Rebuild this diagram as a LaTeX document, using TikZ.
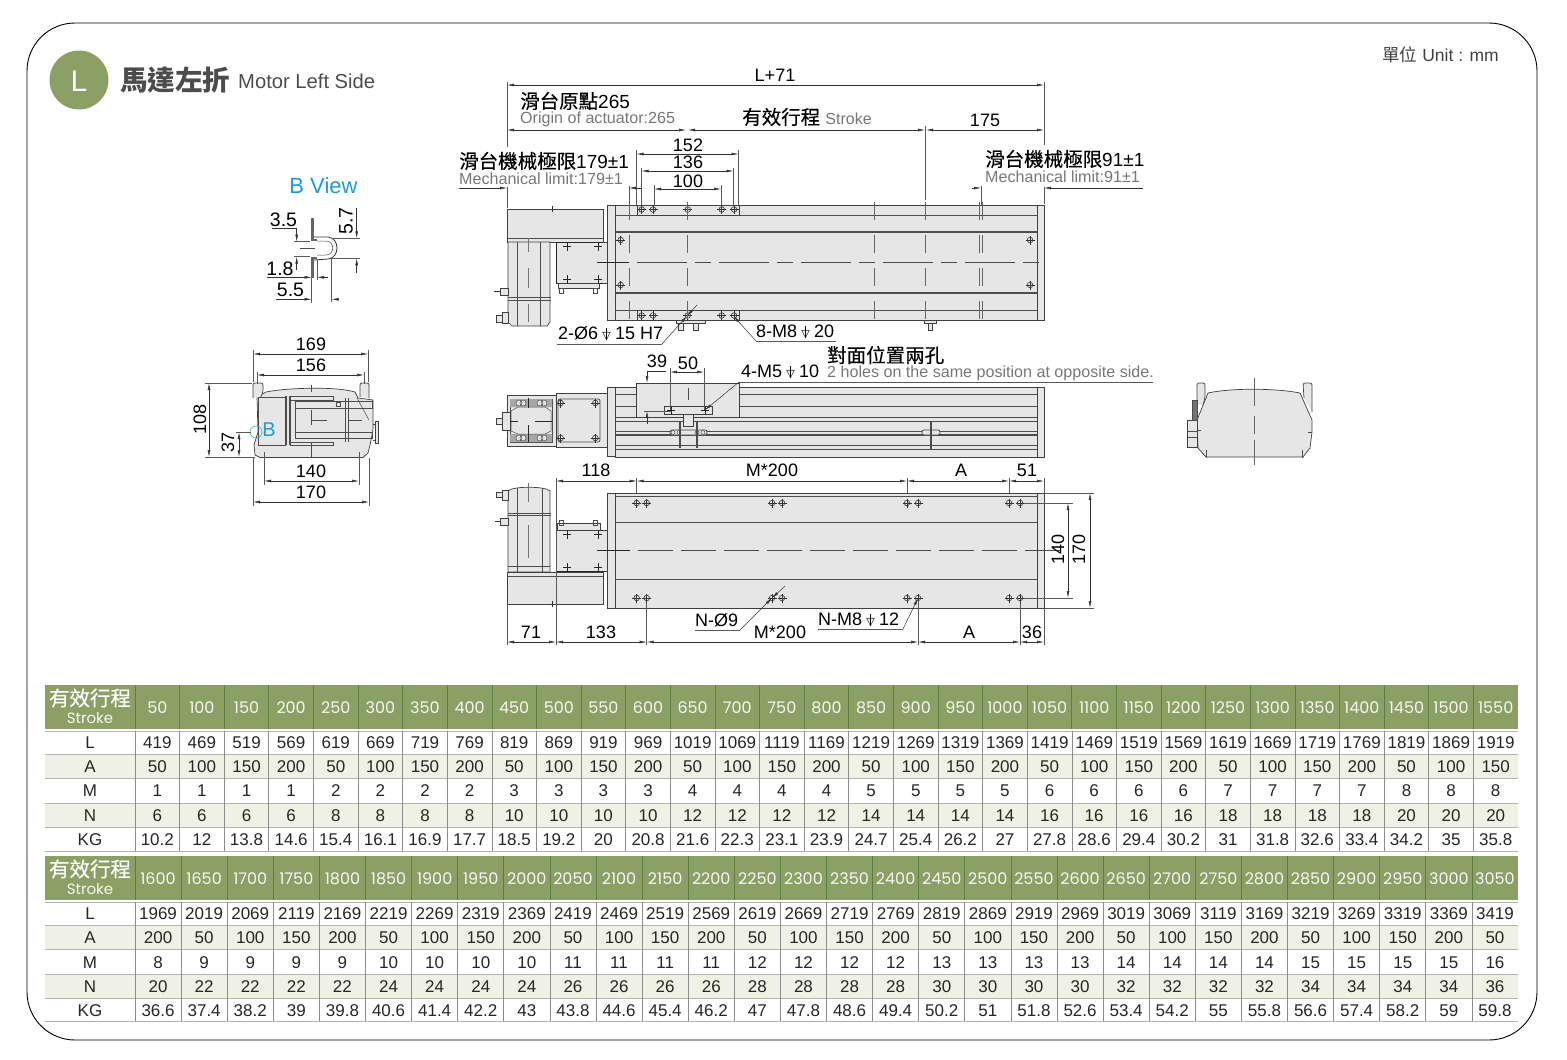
\documentclass[tikz,border=0pt]{standalone}
\usepackage{fontspec}
\setmainfont{Liberation Sans}
\newfontfamily\cjk[FakeBold=0.3]{Noto Sans CJK TC}
\newfontfamily\cjkt{Noto Sans CJK TC}
\newfontfamily\headfont{Poppins}
\newfontfamily\symfont{DejaVu Sans}
\usetikzlibrary{arrows.meta}
\definecolor{leaf}{HTML}{8AA065}
\definecolor{leafdark}{HTML}{5E7A45}
\definecolor{paleleaf}{HTML}{EEF1E3}
\definecolor{partgray}{HTML}{E6E6E6}
\definecolor{engray}{HTML}{777777}
\definecolor{skyb}{HTML}{1E9BD7}
\newcommand{\fs}[1]{\fontsize{#1}{#1}\selectfont}
\newcommand{\depth}{\makebox[17pt][c]{\makebox[0pt][c]{\symfont\fs{11}▽}\makebox[0pt][c]{\rule{0.9pt}{11.5pt}}}}
\tikzset{>={Latex[length=7pt,width=2.8pt]}}
\tikzset{
  part/.style={draw=black!75,fill=partgray,line width=0.7pt},
  edge/.style={draw=black!70,line width=0.5pt},
  thickedge/.style={draw=black!70,line width=1.4pt},
  center/.style={draw=black!70,line width=0.7pt,dash pattern=on 50pt off 8pt on 16pt off 8pt},
  centerv/.style={draw=black!60,line width=0.7pt,dash pattern=on 18pt off 15pt},
  stub/.style={draw=black!85,line width=0.9pt},
  dimline/.style={draw=black!80,line width=0.5pt},
  extline/.style={draw=black!65,line width=0.45pt},
  dimtxt/.style={font=\fs{18},inner sep=0pt},
  bigdim/.style={font=\fs{19.5},inner sep=0pt},
  cntxt/.style={font=\fs{19},inner sep=0pt,anchor=west},
  entxt/.style={font=\fs{16.1},text=engray,inner sep=0pt,anchor=west},
  cellnum/.style={font=\fs{17},inner sep=0pt,text=black!85},
  headnum/.style={font=\headfont\fs{16},inner sep=0pt,text=white!92!leaf},
  gridline/.style={draw=black!45,line width=0.7pt},
  headgrid/.style={draw=leafdark,line width=0.8pt}
}
\newcommand{\tablerow}[5]{%
  \foreach \val [count=\i] in {#5} {
    \node[#1] (cell#2-\i) at ({#3+(\i-0.5)*#4},#2) {\val};
  }
}
\newcommand{\bolthole}[2]{%
  \draw[black!80,line width=0.6pt] (#1,#2) circle (2.8);
  \draw[black!80,line width=0.6pt] (#1-4.5,#2) -- (#1+4.5,#2) (#1,#2-4.5) -- (#1,#2+4.5);
}
\newcommand{\crossmark}[2]{%
  \draw[line width=1pt,black!85] (#1-4,#2) -- (#1+4,#2) (#1,#2-4.5) -- (#1,#2+4.5);
}
\begin{document}
\begin{tikzpicture}[x=1pt,y=-1pt]
\useasboundingbox (0,0) rectangle (1567,1060);
\draw[black,line width=0.9pt,rounded corners=48] (27,23) rectangle (1537,1040);

% title
\fill[leaf] (79,80) circle (29.5);
\node[font=\fs{30},text=white,inner sep=0pt] (badge) at (79,81) {L};
\node[font=\cjkt\bfseries\fs{27.5},text=black!70,inner sep=0pt,anchor=west] (title) at (120,80) {馬達左折};
\node[font=\fs{20.2},text=black!70,inner sep=0pt,anchor=west] (titleen) at (238,81) {Motor Left Side};
\node[font=\fs{17.5},text=black!75,inner sep=0pt,anchor=east] (unit) at (1499,55) {{\cjkt 單位} Unit : mm};

% B view
\node[font=\fs{22},text=skyb,inner sep=0pt] (bview) at (323.5,186) {B View};
\draw[black!60,line width=2.2pt] (312.5,218) -- (312.5,240) -- (317,240);
\draw[black!60,line width=2.2pt] (312.5,278) -- (312.5,258) -- (317,258);
\draw[black!80,line width=0.8pt] (314,237) -- (328,237) .. controls (340,238) and (340,258) .. (328,259) -- (314,260);
\draw[black!70,line width=0.5pt] (317,241) -- (326,241) .. controls (335,241) and (335,255) .. (326,255) -- (317,255);
\draw[edge] (300,248.5) -- (315,248.5);
\draw[extline] (294,241.7) -- (310,241.7) (294,256.7) -- (310,256.7);
\draw[extline] (332,238.3) -- (360,238.3) (330,258.3) -- (360,258.3);
\draw[extline] (311.7,278) -- (311.7,303) (331.7,258) -- (331.7,302) (317,260) -- (317,280);
\draw[dimline,->] (272,228) -- (296.7,228) -- (296.7,241.7);
\draw[dimline,->] (296.7,270) -- (296.7,256.7);
\draw[dimline,->] (267,277.3) -- (311.7,277.3);
\draw[dimline,->] (328,277.3) -- (317,277.3);
\draw[dimline,->] (276,299.3) -- (311.7,299.3);
\draw[dimline,->] (339,299.3) -- (331.7,299.3);
\draw[dimline,->] (356.7,208) -- (356.7,238.3);
\draw[dimline,->] (356.7,273) -- (356.7,258.3);
\node[bigdim] (d35) at (283.5,220) {3.5};
\node[bigdim] (d18) at (280,269) {1.8};
\node[bigdim] (d55) at (290.5,290) {5.5};
\node[bigdim,rotate=90] (d57) at (346,221) {5.7};

% end view
\draw[part] (257,397) -- (266,392) .. controls (285,388) and (335,386) .. (355,392) -- (358,398) -- (373,400) -- (373,430)
  -- (370,445) -- (368,453) -- (363,457.5) -- (260,457.5) -- (255,455) -- (254,445) -- (258,432) -- cycle;
\draw[part,rounded corners=2] (253,398) -- (253,383) -- (263,383) -- (263,392) -- (261,397);
\draw[part,rounded corners=2] (360,397) -- (360,383) -- (369,383) -- (369,398);
\draw[part] (375,421) rectangle (378,443);
\draw[edge] (373,424) -- (375,424) (373,440) -- (375,440);
\draw[edge] (258,397) -- (258,445) -- (286,445) (258,397) -- (286,397);
\draw[thickedge] (286,396) -- (286,445);
\draw[thickedge] (290,396) -- (290,445);
\draw[edge] (290,396) rectangle (333,400) (290,442) rectangle (333,445);
\draw[edge] (295,401) rectangle (372,408) (295,432) rectangle (372,438);
\draw[edge,line width=1pt] (295,401) -- (295,438);
\draw[edge] (345,398) -- (345,442) (348,398) -- (348,442);
\draw[edge] (357,398) -- (369,420);
\draw[edge] (311,385) -- (311,392) (311,410) -- (311,425) (311,443) -- (311,458) (311,420) -- (327,420);
\draw[edge] (348,420) -- (362,420);
\draw[edge] (336,402) rectangle (340,406);
\draw[skyb,line width=0.5pt] (256,432) circle (6);
\node[font=\fs{20},text=skyb,inner sep=0pt] (bmark) at (269,430) {B};
\draw[extline] (253,350) -- (253,382) (368,350) -- (368,382) (257,372) -- (257,384) (364,372) -- (364,384);
\draw[extline] (205,383) -- (252,383) (205,457) -- (255,457) (236,432) -- (251,432);
\draw[extline] (253,458) -- (253,506) (369,458) -- (369,506) (264,452) -- (264,485) (359,452) -- (359,485);
\draw[dimline,<->] (253,354) -- (368,354);
\draw[dimline,<->] (257,375) -- (364,375);
\draw[dimline,<->] (209,383) -- (209,457);
\draw[dimline,<->] (239,432) -- (239,457);
\draw[dimline,<->] (264,481) -- (359,481);
\draw[dimline,<->] (253,502) -- (369,502);
\node[dimtxt] (d169) at (311,344) {169};
\node[dimtxt] (d156) at (311,365) {156};
\node[dimtxt,rotate=90] (d108) at (200,419) {108};
\node[dimtxt,rotate=90] (d37) at (228,442) {37};
\node[dimtxt] (d140) at (311,471) {140};
\node[dimtxt] (d170) at (311,492) {170};

% front view, top
\draw[part] (507,209) rectangle (603,242);
\draw[edge] (507,238) -- (603,238);
\draw[dimline] (552,206) -- (552,212) (550,209) -- (554,209);
\draw[part] (508,242) -- (550,242) -- (550,322) -- (547,326) -- (512,326) -- (508,322) -- cycle;
\draw[edge] (517,242) -- (517,326) (540,242) -- (540,326);
\draw[edge,line width=1pt] (508,297) -- (551,297) (508,300) -- (551,300);
\draw[draw=black!55,line width=0.7pt] (528,238) -- (528,252) (528,268) -- (528,288) (528,304) -- (528,322);
\draw[part] (500,288) rectangle (508,295);
\draw[dimline] (494,291.5) -- (500,291.5);
\draw[part] (496,315) rectangle (502,322);
\draw[part] (502,312) rectangle (508,323);
\draw[part] (556,242) rectangle (609,283);
\draw[stub] (556,242) -- (603,242) (556,242) -- (556,283) -- (603,283);
\draw[part] (558,283) rectangle (599,288);
\draw[edge] (559,288) rectangle (563,293) (593,288) rectangle (597,293);
\crossmark{567}{246}
\crossmark{598}{246}
\crossmark{567}{279}
\crossmark{598}{279}
\draw[part] (607,205) rectangle (615,320);
\draw[part] (615,205) rectangle (1037,320);
\draw[part] (1037,205) rectangle (1044,320);
\draw[edge] (615,215) -- (1037,215) (615,310) -- (1037,310);
\draw[thickedge] (615,232) -- (1037,232) (615,293) -- (1037,293);
\draw[part] (637,205) rectangle (739,215);
\draw[part] (637,310) rectangle (739,320);
\foreach \hx in {641.7,653,687.7,721.7,734} {
  \bolthole{\hx}{209.5}
  \bolthole{\hx}{315.5}
}
\foreach \hx in {620.7,1030} {
  \bolthole{\hx}{240}
  \bolthole{\hx}{285}
}
\draw[stub] (597,262) -- (629,262);
\draw[center] (637,262) -- (1046,262);
\foreach \vx in {629.3,687.7,874,925,979,982} {
  \draw[centerv] (\vx,202) -- (\vx,320);
}
\draw[part] (676,320) rectangle (705,323);
\draw[part] (678,323) rectangle (683,330);
\draw[part] (693,323) rectangle (698,330);
\draw[part] (924,320) rectangle (936,323);
\draw[part] (928,323) rectangle (932,330);
% dimensions, top
\draw[extline] (507,82) -- (507,147) (507,187) -- (507,208) (1044,82) -- (1044,145) (1044,187) -- (1044,204) (925,126) -- (925,200);
\draw[extline] (636.5,150) -- (636.5,205) (738.5,150) -- (738.5,205) (641.5,168) -- (641.5,205) (733.5,168) -- (733.5,205) (654,185) -- (654,205) (721,185) -- (721,205);
\draw[extline] (629,186) -- (629,205) (981,186) -- (981,205);
\draw[dimline,<->] (507,85) -- (1044,85);
\draw[dimline,<->] (507,130) -- (686,130);
\draw[dimline,<->] (688,130) -- (925,130);
\draw[dimline,<->] (926,130) -- (1044,130);
\draw[dimline,<->] (636.5,154) -- (738.5,154);
\draw[dimline,<->] (641.5,171) -- (733.5,171);
\draw[dimline,<->] (654,189) -- (721,189);
\draw[dimline,->] (459,188) -- (507,188);
\draw[dimline,->] (641,188) -- (629,188);
\draw[dimline,->] (972,188) -- (981,188);
\draw[dimline,->] (1143,188) -- (1044,188);
\node[dimtxt] (dL) at (775,75) {L+71};
\node[cntxt] (origincn) at (520,101) {{\cjk\fs{19.5}滑台原點}265};
\node[entxt] (originen) at (520,119.5) {Origin of actuator:265};
\node[cntxt] (strokecn) at (742,117) {{\cjk\fs{19.5}有效行程} {\fs{16}\color{engray}Stroke}};
\node[dimtxt] (d175) at (985,120) {175};
\node[dimtxt] (d152) at (688,145) {152};
\node[dimtxt] (d136) at (688,162) {136};
\node[dimtxt] (d100) at (688,181) {100};
\node[cntxt] (limlcn) at (459,161) {{\cjk\fs{19.5}滑台機械極限}179±1};
\node[entxt] (limlen) at (459,178.5) {Mechanical limit:179±1};
\node[cntxt] (limrcn) at (985,159) {{\cjk\fs{19.5}滑台機械極限}91±1};
\node[entxt] (limren) at (985,176.5) {Mechanical limit:91±1};
\node[dimtxt,anchor=west] (lab2) at (558,334) {2-Ø6\depth 15 H7};
\node[dimtxt,anchor=west] (lab8) at (756,332) {8-M8\depth 20};
\draw[extline] (557,344) -- (662,344);
\draw[dimline,->] (662,344) -- (687,316);
\draw[dimline,<-] (687,316) -- (697,305);
\draw[extline] (756,341) -- (836,341);
\draw[dimline,->] (756,341) -- (733.5,316);

% front view, side
\draw[part] (507,395) rectangle (556,446);
\draw[edge] (510,399) rectangle (552,442);
\fill[black!35] (510,399) rectangle (552,407) (510,434) rectangle (552,442);
\draw[edge,fill=partgray] (518,407) -- (545,407) -- (551,411) -- (551,431) -- (545,434) -- (518,434) -- (511,431) -- (511,411) -- cycle;
\foreach \px in {519,540} {
  \draw[edge,fill=partgray] (\px,403) circle (3) (\px+4,403) circle (3);
  \draw[edge,fill=partgray] (\px,438) circle (3) (\px+4,438) circle (3);
}
\draw[part] (502,412) rectangle (510,430);
\draw[part] (496,418) rectangle (502,424);
\draw[stub] (510,421) -- (518,421) (535,421) -- (552,421) (528,398) -- (528,408) (528,425) -- (528,442);
\draw[part] (556,393) rectangle (607,447);
\draw[edge,rounded corners=2,line width=0.8pt] (558,399) rectangle (600,442);
\foreach \cx in {560.7,595.3} {
  \bolthole{\cx}{403}
  \bolthole{\cx}{438}
}
\draw[part] (607,387) rectangle (615,456);
\draw[part] (615,387) rectangle (1037,457);
\draw[part] (1037,387) rectangle (1044,457);
\draw[edge] (615,394) -- (1037,394) (615,406) -- (1037,406) (615,417) -- (1037,417) (615,421) -- (1037,421) (615,431) -- (1037,431) (615,445) -- (1037,445) (615,449) -- (1037,449);
\draw[thickedge] (615,435) -- (1037,435);
\draw[part] (636,383) rectangle (739,417);
\draw[part] (664,406) rectangle (712,414);
\crossmark{671}{410}
\crossmark{705}{410}
\draw[part] (683,414) rectangle (693,426);
\draw[edge] (688,388) -- (688,400);
\draw[part,rounded corners=2] (670,430) rectangle (707,435);
\foreach \fx in {673,679,697,703} {
  \draw[edge] (\fx,432.5) circle (2);
}
\draw[thickedge] (680,422) -- (680,448) (697,422) -- (697,448);
\draw[part,rounded corners=2] (922,430) rectangle (940,435);
\draw[thickedge] (931,421) -- (931,449);
\draw[dimline,->] (666,371) -- (647,371) -- (647,383);
\draw[dimline,->] (647,424) -- (647,411);
\draw[extline] (644,411) -- (671,411) (670,368) -- (670,410) (704,368) -- (704,410);
\draw[dimline,<->] (670,372) -- (704,372);
\node[dimtxt] (d39) at (657,361) {39};
\node[dimtxt] (d50) at (688,363) {50};
\node[dimtxt,anchor=west] (lab4) at (741,372) {4-M5\depth 10};
\node[inner sep=0pt,anchor=west,font=\cjk\fs{19.5}] (opposcn) at (827,355) {對面位置兩孔};
\node[entxt] (opposen) at (827,373.5) {2 holes on the same position at opposite side.};
\draw[extline] (739,382) -- (1153,382);
\draw[dimline,->] (739,382) -- (705,410);

% right side view
\draw[part] (1208,393) .. controls (1230,388) and (1275,388) .. (1300,393) -- (1312,420) -- (1312,432) -- (1310,448) -- (1303,457) -- (1206,457) -- (1198,448) -- (1197,420) -- cycle;
\draw[part,rounded corners=2] (1197,405) -- (1197,383) -- (1205,383) -- (1205,398) -- (1203,405);
\draw[part,rounded corners=2] (1304,398) -- (1303,383) -- (1312,383) -- (1312,412);
\draw[part] (1187,420) rectangle (1197,447);
\draw[edge,fill=black!55] (1192,400) rectangle (1197,420);
\draw[edge] (1187,431) -- (1197,431) (1187,437) -- (1197,437);
\draw[edge] (1197,430) -- (1201,430) (1312,432) -- (1308,432);
\draw[edge] (1206,450) -- (1206,458) (1302,450) -- (1302,458);
\draw[draw=black!60,line width=0.7pt,dash pattern=on 28pt off 10pt on 18pt off 6pt] (1254,378) -- (1254,465);

% bottom view
\draw[part] (508,491) .. controls (512,486) and (546,486) .. (550,491) -- (550,572) -- (508,572) -- cycle;
\draw[edge] (517,488) -- (517,572) (542,488) -- (542,572);
\draw[edge,line width=1pt] (508,513) -- (551,513) (508,515) -- (551,515);
\draw[edge] (508,566) -- (550,566);
\draw[draw=black!55,line width=0.7pt] (528,483) -- (528,502) (528,525) -- (528,558);
\draw[part] (502,490) rectangle (508,500);
\draw[part] (496,492) rectangle (502,497);
\draw[part] (500,518) rectangle (508,525);
\draw[dimline] (495,521.5) -- (500,521.5);
\draw[part] (507,572) rectangle (603,604);
\draw[edge] (507,576) -- (603,576);
\draw[dimline] (552,601) -- (552,607) (550,604) -- (554,604);
\draw[part] (556,530) rectangle (609,571);
\draw[stub] (556,530) -- (603,530) (556,530) -- (556,571) -- (603,571);
\draw[part] (557,523) rectangle (600,530);
\draw[edge] (559,520) rectangle (563,525) (593,520) rectangle (597,525);
\crossmark{567}{534}
\crossmark{598}{534}
\crossmark{567}{567}
\crossmark{598}{567}
\draw[part] (607,493) rectangle (615,608);
\draw[part] (615,493) rectangle (1037,608);
\draw[part] (1037,493) rectangle (1044,608);
\draw[edge] (615,496.5) -- (1037,496.5);
\draw[edge,line width=1pt] (615,522) -- (1037,522) (615,579) -- (1037,579);
\foreach \ax/\bx in {636.7/646.7,772/782,907/918,1009/1020} {
  \bolthole{\ax}{503}
  \bolthole{\bx}{503}
  \bolthole{\ax}{598}
  \bolthole{\bx}{598}
}
\draw[stub] (597,550) -- (630,550);
\draw[center,dash pattern=on 35pt off 8pt] (638,550) -- (1060,550);
% dimensions, bottom
\draw[extline] (556,478) -- (556,645) (636.7,478) -- (636.7,493) (907,478) -- (907,493) (1009,478) -- (1009,493) (1044,478) -- (1044,493);
\draw[extline] (1024,503) -- (1073,503) (1024,598) -- (1073,598) (1044,493) -- (1094,493) (1044,608) -- (1094,608);
\draw[extline] (507,604) -- (507,645) (646.7,603) -- (646.7,645) (918,600) -- (918,645) (1020,603) -- (1020,645) (1044,608) -- (1044,645);
\draw[dimline,<->] (556,481) -- (636.7,481);
\draw[dimline,<->] (636.7,481) -- (907,481);
\draw[dimline,<->] (907,481) -- (1009,481);
\draw[dimline,<->] (1009,481) -- (1044,481);
\draw[dimline,<->] (1068,503) -- (1068,598);
\draw[dimline,<->] (1090,493) -- (1090,608);
\draw[dimline,<->] (507,642) -- (556,642);
\draw[dimline,<->] (556,642) -- (646.7,642);
\draw[dimline,<->] (646.7,642) -- (918,642);
\draw[dimline,<->] (918,642) -- (1020,642);
\draw[dimline,<->] (1020,642) -- (1044,642);
\node[dimtxt] (d118) at (596,470) {118};
\node[dimtxt] (dm1) at (772,470) {M*200};
\node[dimtxt] (da1) at (961,470) {A};
\node[dimtxt] (d51) at (1027,470) {51};
\node[dimtxt,rotate=90] (d140b) at (1058,549) {140};
\node[dimtxt,rotate=90] (d170b) at (1079,549) {170};
\node[dimtxt] (d71) at (531,632) {71};
\node[dimtxt] (d133) at (601,632) {133};
\node[dimtxt] (dm2) at (780,632) {M*200};
\node[dimtxt] (da2) at (969,632) {A};
\node[dimtxt] (d36) at (1032,632) {36};
\node[dimtxt,anchor=west] (labn) at (695,620) {N-Ø9};
\node[dimtxt,anchor=west] (labm) at (818,620) {N-M8\depth 12};
\draw[extline] (695,630) -- (740,630);
\draw[dimline,->] (740,630) -- (772,598);
\draw[dimline,<-] (772,598) -- (785,586);
\draw[extline] (818,629) -- (903,629);
\draw[dimline,->] (903,629) -- (918,598);

% table, first block
\fill[leaf] (45,685) rectangle (1518,729);
\fill[paleleaf] (45,754) rectangle (1518,778) (45,803) rectangle (1518,827);
\foreach \ly in {731,754,778,803,827,851} {
  \draw[gridline,black!30] (45,\ly) -- (1518,\ly);
}
\foreach \i in {0,...,30} {
  \draw[headgrid] ({135+\i*44.613},685) -- ({135+\i*44.613},729);
  \draw[gridline] ({135+\i*44.613},731) -- ({135+\i*44.613},851);
}
\node[font=\cjk\fs{20.5},text=white,inner sep=0pt] (head1cn) at (90,698) {有效行程};
\node[font=\headfont\fs{15},text=white!92!leaf,inner sep=0pt] (head1en) at (90,718) {Stroke};
\foreach \lab/\ly in {L/743,A/766.5,M/791,N/815.5,KG/839.5} {
  \node[cellnum] (lab1\lab) at (90,\ly) {\lab};
}
\tablerow{headnum}{708}{135}{44.613}{50,100,...,1550}
\tablerow{cellnum}{743}{135}{44.613}{419,469,...,1919}
\tablerow{cellnum}{766.5}{135}{44.613}{50,100,150,200,50,100,150,200,50,100,150,200,50,100,150,200,50,100,150,200,50,100,150,200,50,100,150,200,50,100,150}
\tablerow{cellnum}{791}{135}{44.613}{1,1,1,1,2,2,2,2,3,3,3,3,4,4,4,4,5,5,5,5,6,6,6,6,7,7,7,7,8,8,8}
\tablerow{cellnum}{815.5}{135}{44.613}{6,6,6,6,8,8,8,8,10,10,10,10,12,12,12,12,14,14,14,14,16,16,16,16,18,18,18,18,20,20,20}
\tablerow{cellnum}{839.5}{135}{44.613}{10.2,12,13.8,14.6,15.4,16.1,16.9,17.7,18.5,19.2,20,20.8,21.6,22.3,23.1,23.9,24.7,25.4,26.2,27,27.8,28.6,29.4,30.2,31,31.8,32.6,33.4,34.2,35,35.8}

% table, second block
\fill[leaf] (45,856) rectangle (1518,900);
\fill[paleleaf] (45,925) rectangle (1518,949) (45,974) rectangle (1518,998);
\foreach \ly in {902,925,949,974,998,1021} {
  \draw[gridline,black!30] (45,\ly) -- (1518,\ly);
}
\foreach \i in {0,...,29} {
  \draw[headgrid] ({135+\i*46.1},856) -- ({135+\i*46.1},900);
  \draw[gridline] ({135+\i*46.1},902) -- ({135+\i*46.1},1021);
}
\node[font=\cjk\fs{20.5},text=white,inner sep=0pt] (head2cn) at (90,869) {有效行程};
\node[font=\headfont\fs{15},text=white!92!leaf,inner sep=0pt] (head2en) at (90,889) {Stroke};
\foreach \lab/\ly in {L/913.5,A/937.5,M/962.5,N/986.5,KG/1010.5} {
  \node[cellnum] (lab2\lab) at (90,\ly) {\lab};
}
\tablerow{headnum}{879}{135}{46.1}{1600,1650,...,3050}
\tablerow{cellnum}{913.5}{135}{46.1}{1969,2019,...,3419}
\tablerow{cellnum}{937.5}{135}{46.1}{200,50,100,150,200,50,100,150,200,50,100,150,200,50,100,150,200,50,100,150,200,50,100,150,200,50,100,150,200,50}
\tablerow{cellnum}{962.5}{135}{46.1}{8,9,9,9,9,10,10,10,10,11,11,11,11,12,12,12,12,13,13,13,13,14,14,14,14,15,15,15,15,16}
\tablerow{cellnum}{986.5}{135}{46.1}{20,22,22,22,22,24,24,24,24,26,26,26,26,28,28,28,28,30,30,30,30,32,32,32,32,34,34,34,34,36}
\tablerow{cellnum}{1010.5}{135}{46.1}{36.6,37.4,38.2,39,39.8,40.6,41.4,42.2,43,43.8,44.6,45.4,46.2,47,47.8,48.6,49.4,50.2,51,51.8,52.6,53.4,54.2,55,55.8,56.6,57.4,58.2,59,59.8}
\end{tikzpicture}
\end{document}
